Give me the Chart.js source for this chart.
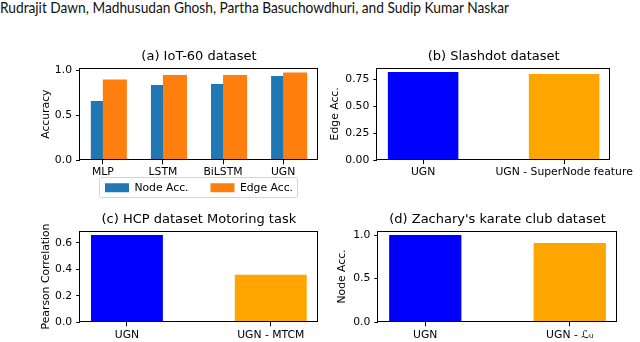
<!DOCTYPE html>
<html>
<head>
<meta charset="utf-8">
<script src="https://cdn.jsdelivr.net/npm/chart.js@4.4.1/dist/chart.umd.min.js"></script>
<style>
  body { margin: 0; background: #fff; width: 640px; height: 342px; overflow: hidden; position: relative; }
  canvas { position: absolute; }
  #hdr { position: absolute; left: 0; top: -3px; font-family: Lato; font-size: 16px; line-height: 20px;
         white-space: nowrap; transform-origin: 0 0; color: #111; }
</style>
</head>
<body>
<div id="hdr">Rudrajit Dawn, Madhusudan Ghosh, Partha Basuchowdhuri, and Sudip Kumar Naskar</div>
<canvas id="ca" width="320" height="184" style="left:0;top:40px"></canvas>
<canvas id="cb" width="320" height="150" style="left:320px;top:40px"></canvas>
<canvas id="cc" width="320" height="142" style="left:0;top:200px"></canvas>
<canvas id="cd" width="320" height="142" style="left:320px;top:200px"></canvas>
<script>
// values
var iotModels = ["MLP", "LSTM", "BiLSTM", "UGN"];
var iotNode = [0.66, 0.84, 0.85, 0.94];
var iotEdge = [0.90, 0.95, 0.95, 0.98];
var iotTicks = [0, 0.5, 1.0];
var iotTickLabels = ["0.0", "0.5", "1.0"];

var slashLabels = ["UGN", "UGN - SuperNode feature"];
var slashEdge = [0.815, 0.797];
var slashTicks = [0, 0.25, 0.5, 0.75];
var slashTickLabels = ["0.00", "0.25", "0.50", "0.75"];

var hcpLabels = ["UGN", "UGN - MTCM"];
var hcpPearson = [0.658, 0.358];
var hcpTicks = [0, 0.2, 0.4, 0.6];
var hcpTickLabels = ["0.0", "0.2", "0.4", "0.6"];

var karateLabels = ["UGN", "UGN - \u2112\u1D64"];
var karateNode = [1.0, 0.91];
var karateTicks = [0, 0.5, 1.0];
var karateTickLabels = ["0.0", "0.5", "1.0"];

var pairColors = ["#0000ff", "#ffa500"];

// squeeze the header to the width of the original line
var hdr = document.getElementById("hdr");
hdr.style.transform = "scaleX(" + (509 / hdr.getBoundingClientRect().width) + ")";

Chart.defaults.font.family = "DejaVu Sans";
Chart.defaults.font.size = 10.8;
Chart.defaults.color = "#000";
Chart.defaults.animation = false;
Chart.defaults.plugins.tooltip.enabled = false;

var frame = {
  id: "frame",
  afterDatasetsDraw: function (chart) {
    var a = chart.chartArea, ctx = chart.ctx;
    ctx.save();
    ctx.strokeStyle = "#000";
    ctx.lineWidth = 1;
    ctx.strokeRect(Math.round(a.left) - 0.5, Math.round(a.top) + 0.5,
      Math.round(a.right) - Math.round(a.left), Math.round(a.bottom) - Math.round(a.top) - 1);
    ctx.restore();
  }
};

// pull the legend up against the x labels (like matplotlib's lower-centre legend) and box it
var legendBox = {
  id: "legendBox",
  afterLayout: function (chart) {
    var lg = chart.legend, up = chart.scales.x.height;
    lg.top -= up;
    lg.bottom -= up;
  },
  afterDraw: function (chart) {
    var hb = chart.legend && chart.legend.legendHitBoxes;
    if (!hb || !hb.length) return;
    var l = Math.min.apply(null, hb.map(function (h) { return h.left; }));
    var r = Math.max.apply(null, hb.map(function (h) { return h.left + h.width; }));
    var t = hb[0].top, b = hb[0].top + hb[0].height;
    var ctx = chart.ctx;
    ctx.save();
    ctx.strokeStyle = "#d4d4d4";
    ctx.lineWidth = 1;
    ctx.beginPath();
    ctx.roundRect(Math.round(l - 6) + 0.5, Math.round(t - 5) + 0.5, Math.round(r - l + 10), Math.round(b - t + 9), 2);
    ctx.stroke();
    ctx.restore();
  }
};

function yAxis(g, max, ticks, labels, text) {
  return {
    min: 0,
    max: max,
    afterBuildTicks: function (s) { s.ticks = ticks.map(function (v) { return { value: v }; }); },
    afterFit: function (s) { s.width = g.left - g.pl; },
    ticks: { callback: function (v, i) { return labels[i]; }, padding: 4 },
    grid: { drawOnChartArea: false, tickLength: 4, tickColor: "#000" },
    border: { display: false },
    title: { display: true, text: text, padding: 0 }
  };
}

function xAxis(g, min, max, labels, hidden) {
  var ax = {
    type: "linear",
    display: !hidden,
    min: min,
    max: max,
    offset: false,
    afterBuildTicks: function (s) { s.ticks = labels.map(function (c, i) { return { value: i }; }); },
    ticks: { callback: function (v, i) { return labels[i]; }, autoSkip: false, maxRotation: 0, padding: g.xpad },
    grid: { offset: false, drawOnChartArea: false, tickLength: 4, tickColor: "#000" },
    border: { display: false }
  };
  if (!hidden) ax.afterFit = function (s) { s.height = g.xh; };
  return ax;
}

function baseOptions(g, title) {
  return {
    responsive: false,
    layout: { autoPadding: false, padding: { left: g.pl, right: g.w - g.right, top: g.pt, bottom: g.pb } },
    plugins: {
      legend: { display: false },
      title: { display: true, text: title, fullSize: false, font: { size: 13, weight: "normal" },
               padding: { top: 0, bottom: g.top - g.pt - 15.6 } }
    }
  };
}

function pairChart(id, g, labels, values, ticks, tickLabels, title, yTitle) {
  var opts = baseOptions(g, title);
  opts.scales = {
    x: xAxis(g, -0.325, 1.325, labels, false),
    y: yAxis(g, Math.max.apply(null, values) * 1.05, ticks, tickLabels, yTitle)
  };
  return new Chart(document.getElementById(id).getContext("2d"), {
    type: "bar",
    data: {
      datasets: [{
        data: values.map(function (v, i) { return { x: i, y: v }; }),
        backgroundColor: pairColors,
        barPercentage: 0.5,
        categoryPercentage: 1
      }]
    },
    options: opts,
    plugins: [frame]
  });
}

// (a) IoT-60
var gA = { w: 320, left: 80, right: 318, top: 28, pl: 39.5, pt: 9.2, pb: 0.9, xh: 20, xpad: 1.3 };
var optsA = baseOptions(gA, "(a) IoT-60 dataset");
optsA.plugins.legend = {
  display: true,
  position: "bottom",
  fullSize: false,
  labels: {
    boxWidth: 24, boxHeight: 9, padding: 22,
    sort: function (a, b) { return a.datasetIndex - b.datasetIndex; }
  }
};
optsA.scales = {
  x: xAxis(gA, -0.38, 3.58, iotModels, false),
  x2: xAxis(gA, -0.58, 3.38, iotModels, true),
  y: yAxis(gA, Math.max.apply(null, iotEdge) * 1.05, iotTicks, iotTickLabels, "Accuracy")
};
new Chart(document.getElementById("ca").getContext("2d"), {
  type: "bar",
  data: {
    datasets: [
      {
        label: "Node Acc.",
        data: iotNode.map(function (v, i) { return { x: i, y: v }; }),
        backgroundColor: "#1f77b4",
        xAxisID: "x",
        order: 1,
        grouped: false,
        barPercentage: 0.4,
        categoryPercentage: 1
      },
      {
        label: "Edge Acc.",
        data: iotEdge.map(function (v, i) { return { x: i, y: v }; }),
        backgroundColor: "#ff7f0e",
        xAxisID: "x2",
        order: 0,
        grouped: false,
        barPercentage: 0.4,
        categoryPercentage: 1
      }
    ]
  },
  options: optsA,
  plugins: [frame, legendBox]
});

// (b) Slashdot
pairChart("cb", { w: 320, left: 57.3, right: 296.5, top: 27.7, pl: 8.5, pt: 9.2, pb: 0, xh: 30, xpad: 1.3 },
  slashLabels, slashEdge, slashTicks, slashTickLabels, "(b) Slashdot dataset", "Edge Acc.");

// (c) HCP
pairChart("cc", { w: 320, left: 80.2, right: 317.5, top: 30.7, pl: 39.5, pt: 12.2, pb: 0, xh: 19.7, xpad: 2.5 },
  hcpLabels, hcpPearson, hcpTicks, hcpTickLabels, "(c) HCP dataset Motoring task", "Pearson Correlation");

// (d) Zachary's karate club
pairChart("cd", { w: 320, left: 58.3, right: 296.7, top: 30.7, pl: 15.5, pt: 12.2, pb: 0, xh: 19.7, xpad: 2.5 },
  karateLabels, karateNode, karateTicks, karateTickLabels, "(d) Zachary's karate club dataset", "Node Acc.");
</script>
</body>
</html>
